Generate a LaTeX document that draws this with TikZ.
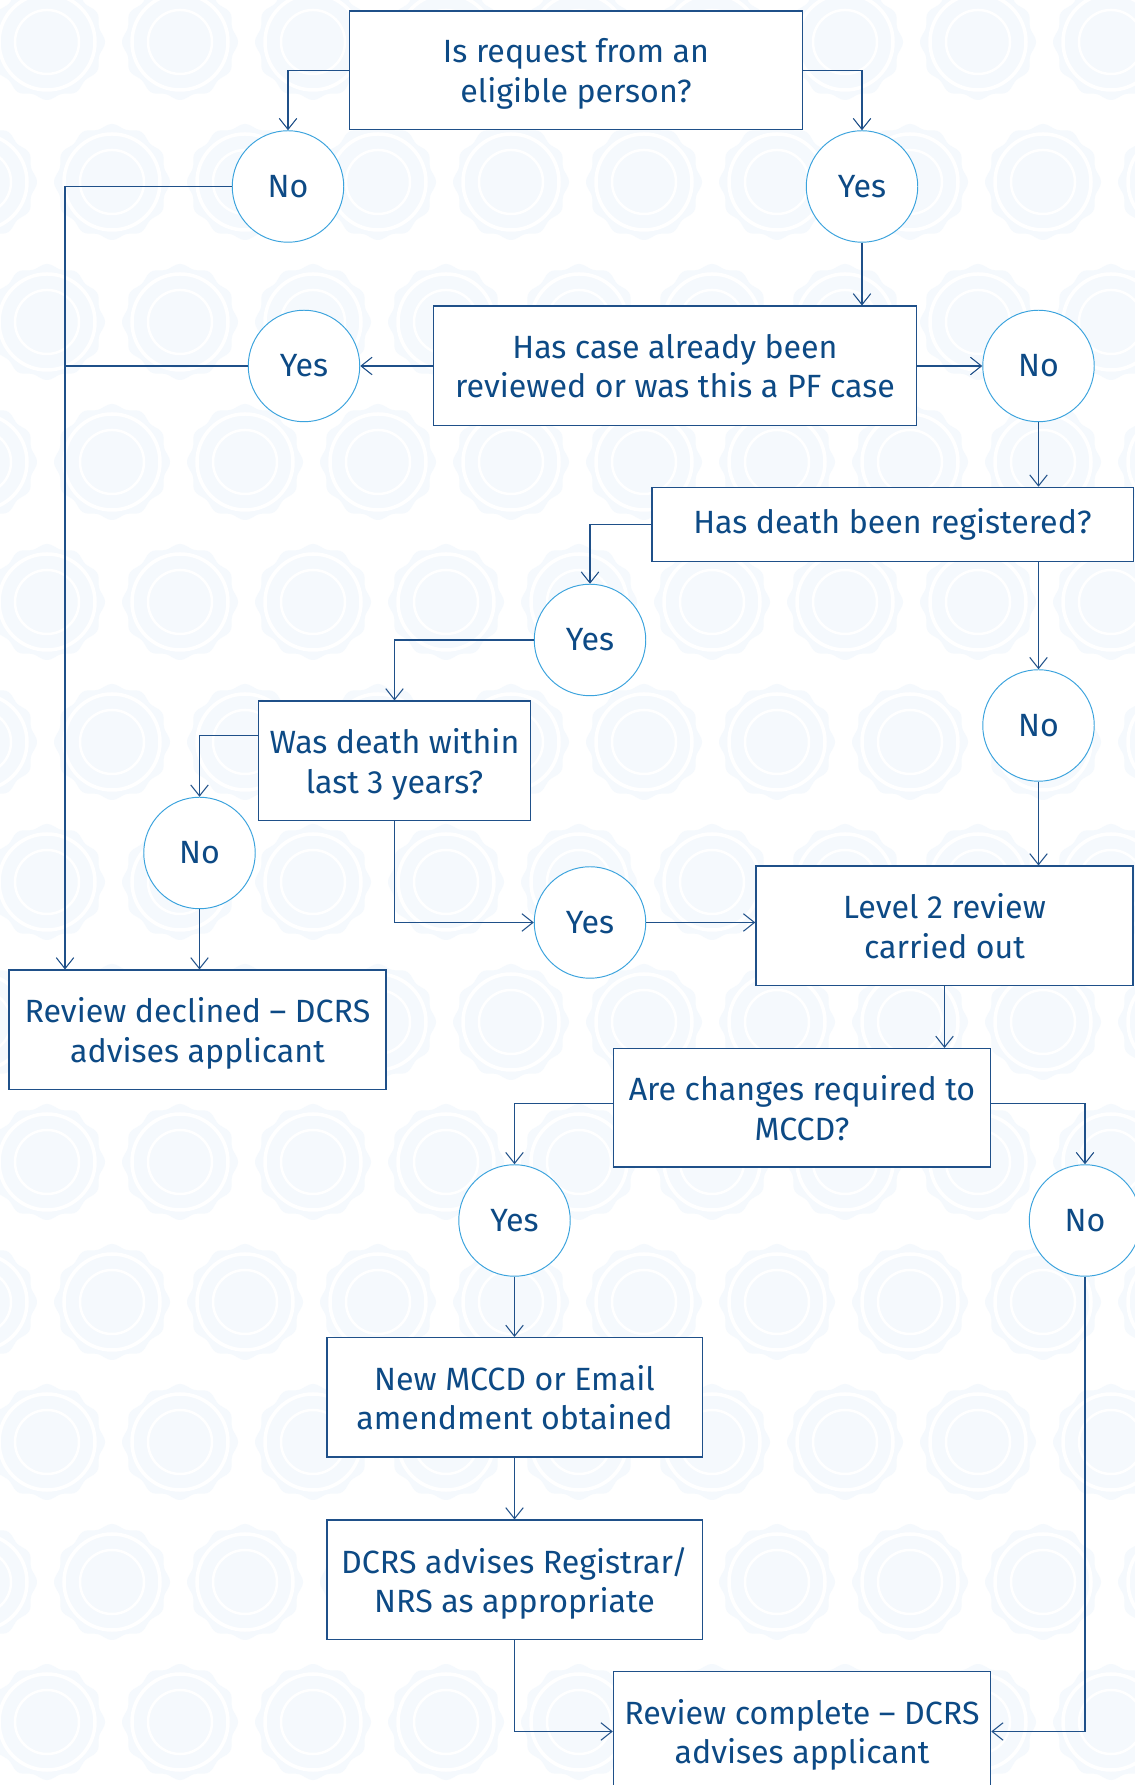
\documentclass[tikz,border=0pt]{standalone}
\usepackage{fontspec}
\setmainfont{Fira Sans}
\usetikzlibrary{arrows.meta}
\definecolor{navy}{HTML}{0D4A85}
\definecolor{edge}{HTML}{1F5089}
\definecolor{ring}{HTML}{3BA3DD}
\definecolor{paper}{HTML}{F5F9FD}

\begin{document}
\begin{tikzpicture}[
  box/.style={draw=edge,line width=0.85pt,fill=white,text=navy,align=center,minimum height=2.39cm,inner sep=0pt,text depth=0pt},
  answer/.style={circle,draw=ring,line width=0.55pt,fill=white,text=navy,minimum size=2.23cm,inner sep=0pt},
  flowline/.style={draw=edge,line width=0.6pt},
  link/.style={flowline,-{Straight Barb[length=2.2mm,width=3.5mm]}},
  every node/.style={font=\fontsize{18.3}{22.7}\selectfont}]
  \useasboundingbox (0,0) rectangle (22.68,35.7);
  \fill[white] (0,0) rectangle (22.68,35.7);
  \foreach \n in {0,...,12} {
    \pgfmathsetmacro{\off}{ifthenelse(mod(\n,2)==0,0.94,2.24)}
    \foreach \m in {-1,...,8} {
      \begin{scope}[shift={({\off+2.66*\m},{34.86-2.8*\n})}]
        \fill[paper] plot[domain=0:357,samples=120,variable=\t]
          ({(1.12+0.04*cos(12*\t))*cos(\t)},{(1.12+0.04*cos(12*\t))*sin(\t)}) -- cycle;
        \draw[white,line width=0.07cm] (0,0) circle (0.96);
        \draw[white,line width=0.05cm] (0,0) circle (0.64);
      \end{scope}
    }
  }

  \node[box,minimum width=9.06cm,minimum height=2.37cm] (eligible) at (11.52,34.29) {Is request from an\\eligible person?};
  \node[answer] (no1) at (5.76,31.97) {No};
  \node[answer] (yes1) at (17.24,31.97) {Yes};
  \node[box,minimum width=9.66cm] (reviewed) at (13.50,28.38) {Has case already been\\reviewed or was this a PF case};
  \node[answer] (yes2) at (6.08,28.38) {Yes};
  \node[answer] (no2) at (20.77,28.38) {No};
  \node[box,minimum width=9.63cm,minimum height=1.48cm,text depth={}] (registered) at (17.85,25.21) {Has death been registered?};
  \node[answer] (yes3) at (11.80,22.90) {Yes};
  \node[answer] (no3) at (20.77,21.19) {No};
  \node[box,minimum width=5.44cm] (within) at (7.89,20.48) {Was death within\\last 3 years?};
  \node[answer] (no4) at (3.99,18.64) {No};
  \node[answer] (yes4) at (11.80,17.25) {Yes};
  \node[box,minimum width=7.54cm] (level) at (18.89,17.18) {Level 2 review\\carried out};
  \node[box,minimum width=7.54cm] (declined) at (3.95,15.10) {Review declined – DCRS\\advises applicant};
  \node[box,minimum width=7.54cm,minimum height=2.37cm] (changes) at (16.04,13.54) {Are changes required to\\MCCD?};
  \node[answer] (yes5) at (10.29,11.29) {Yes};
  \node[answer] (no5) at (21.70,11.29) {No};
  \node[box,minimum width=7.51cm] (amend) at (10.29,7.75) {New MCCD or Email\\amendment obtained};
  \node[box,minimum width=7.51cm] (advises) at (10.29,4.10) {DCRS advises Registrar/\\NRS as appropriate};
  \node[box,minimum width=7.54cm] (complete) at (16.04,1.07) {Review complete – DCRS\\advises applicant};
  \coordinate (spine) at (1.30,0);

  \draw[link] (eligible.west) -| (no1.north);
  \draw[link] (eligible.east) -| (yes1.north);
  \draw[link] (no1.west) -| (spine |- declined.north);
  \draw[flowline] (yes2.west) -- (yes2.west -| spine);
  \draw[link] (yes1.south) -- (yes1.south |- reviewed.north);
  \draw[link] (reviewed.west) -- (yes2.east);
  \draw[link] (reviewed.east) -- (no2.west);
  \draw[link] (no2.south) -- (no2.south |- registered.north);
  \draw[link] (registered.west) -| (yes3.north);
  \draw[link] (no3.north |- registered.south) -- (no3.north);
  \draw[link] (yes3.west) -| (within.north);
  \draw[link] (no3.south) -- (no3.south |- level.north);
  \draw[link] ([yshift=0.51cm]within.west) -| (no4.north);
  \draw[link] (within.south) |- (yes4.west);
  \draw[link] (no4.south) -- (no4.south |- declined.north);
  \draw[link] (yes4.east) -- (yes4.east -| level.west);
  \draw[link] (level.south) -- (level.south |- changes.north);
  \draw[link] ([yshift=0.09cm]changes.west) -| (yes5.north);
  \draw[link] ([yshift=0.09cm]changes.east) -| (no5.north);
  \draw[link] (yes5) -- (amend);
  \draw[link] (amend) -- (advises);
  \draw[link] (advises.south) |- (complete.west);
  \draw[link] (no5.south) |- (complete.east);
\end{tikzpicture}
\end{document}
